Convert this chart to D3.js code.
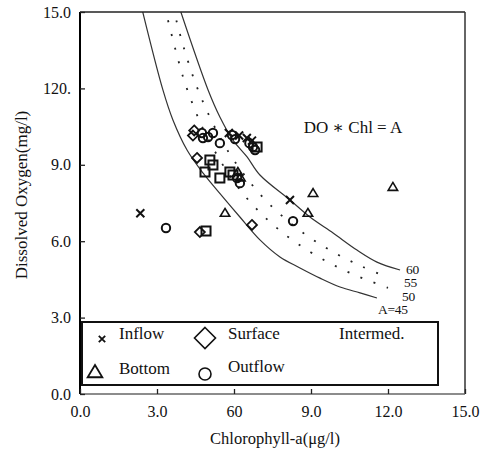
<!DOCTYPE html>
<html><head><meta charset="utf-8">
<script src="https://cdn.jsdelivr.net/npm/d3@7"></script>
<style>body{margin:0;background:#fff}svg{display:block}
svg text{font-family:"Liberation Serif","Times New Roman",Tinos,Times,"Nimbus Roman","DejaVu Serif",serif !important;fill:#111}</style>
</head><body><svg id="c" width="483" height="454"></svg>
<script>
// ---- data (Chlorophyll-a, Dissolved Oxygen) ----
const xTickValues = [0, 3, 6, 9, 12, 15];
const xTickLabels = ["0.0", "3.0", "60", "9.0", "12.0", "15.0"];
const yTickValues = [0, 3, 6, 9, 12, 15];
const yTickLabels = ["0.0", "3.0", "6.0", "9.0", "120.", "15.0"];

const inflow = [[2.35,7.10],[5.8,10.25],[6.2,10.15],[6.5,10.05],[6.7,9.95],[8.18,7.62]];
const surface = [[4.45,10.35],[4.40,10.15],[4.56,9.27],[4.67,6.36],[6.70,6.64]];
const bottom = [[5.65,7.11],[9.08,7.89],[12.19,8.13],[8.88,7.11],[6.15,8.72],[6.25,8.50]];
const outflow = [[3.35,6.52],[8.30,6.79],[4.75,10.25],[4.99,10.09],[5.18,10.25],[5.45,9.85],[4.79,10.05],
                 [5.92,10.17],[6.04,10.01],[6.74,9.70],[6.82,9.58],[6.12,8.48],[6.23,8.28],[6.60,9.85]];
const intermed = [[4.91,6.40],[5.06,9.19],[5.18,8.99],[4.87,8.72],[5.45,8.48],[5.84,8.72],[5.96,8.60],[6.90,9.70]];

const curve60 = [[3.93,15.0],[4.99,11.94],[5.45,10.88],[5.96,9.97],[6.51,9.31],[7.01,8.60],[8.18,7.62],[8.96,6.95],[9.86,6.32],[10.79,5.65],[11.57,5.18],[12.47,4.87]];
const curve55 = [[3.62,15.2],[4.0,13.75],[4.5,12.2],[5.0,11.0],[5.5,10.0],[6.0,9.17],[7.0,7.86],[8.0,6.88],[9.0,6.11],[10.0,5.5],[11.0,5.0],[12.0,4.58]];
const curve50 = [[3.30,15.2],[4.0,12.5],[4.5,11.1],[5.0,10.0],[6.0,8.33],[7.0,7.14],[8.0,6.25],[9.0,5.56],[10.0,5.0],[11.0,4.55],[12.0,4.17]];
const curve45 = [[2.42,15.1],[3.23,11.94],[3.62,10.76],[4.17,9.58],[4.79,8.68],[5.57,7.73],[6.23,6.95],[7.01,6.05],[7.79,5.38],[8.57,4.95],[9.35,4.55],[10.13,4.20],[10.91,3.97],[11.57,3.77]];
const curveLabels = ["60", "55", "50", "A=45"];

// ---- layout ----
const svg = d3.select("#c");
const x = d3.scaleLinear().domain([0, 15]).range([80, 465]);
const y = d3.scaleLinear().domain([0, 15]).range([394, 12]);

svg.append("defs").append("clipPath").attr("id","clip")
  .append("rect").attr("x",80).attr("y",12).attr("width",385).attr("height",382);

// curves
const line = d3.line().x(d => x(d[0])).y(d => y(d[1])).curve(d3.curveCatmullRom);
const cg = svg.append("g").attr("clip-path","url(#clip)");
[[curve60,false],[curve55,true],[curve50,true],[curve45,false]].forEach(([c,dot]) => {
  cg.append("path").attr("d", line(c)).attr("fill","none")
    .attr("stroke", dot ? "#222" : "#333").attr("stroke-width", dot ? 1.8 : 1.2)
    .attr("stroke-dasharray", dot ? "2,12" : null);
});
// curve labels at curve ends
const ends = [curve60, curve55, curve50, curve45];
const lblOff = [[6,4],[16,10],[14,13],[1,16]];
ends.forEach((c,i) => {
  const e = c[c.length-1];
  svg.append("text").attr("x", x(e[0]) + lblOff[i][0]).attr("y", y(e[1]) + lblOff[i][1])
    .attr("font-size", 13.5).attr("letter-spacing", -0.3).text(curveLabels[i]);
});

// frame
svg.append("line").attr("x1",80).attr("x2",465).attr("y1",12).attr("y2",12).attr("stroke","#222").attr("stroke-width",1.5);
svg.append("line").attr("x1",465).attr("x2",465).attr("y1",12).attr("y2",394).attr("stroke","#333").attr("stroke-width",1.5);
svg.append("line").attr("x1",80).attr("x2",465).attr("y1",394).attr("y2",394).attr("stroke","#666").attr("stroke-width",1.5);
svg.append("line").attr("x1",80).attr("x2",80).attr("y1",12).attr("y2",394).attr("stroke","#000").attr("stroke-width",2);

// axes
const xa = svg.append("g").attr("transform","translate(0,394)")
  .call(d3.axisBottom(x).tickValues(xTickValues).tickFormat((d,i)=>xTickLabels[i]).tickSizeInner(-5).tickSizeOuter(0).tickPadding(12));
const ya = svg.append("g").attr("transform","translate(80,0)")
  .call(d3.axisLeft(y).tickValues(yTickValues).tickFormat((d,i)=>yTickLabels[i]).tickSizeInner(-5).tickSizeOuter(0).tickPadding(9));
[xa, ya].forEach(a => {
  a.attr("font-family", null);
  a.select(".domain").remove();
  a.selectAll("line").attr("stroke","#222").attr("stroke-width",1.3);
  a.selectAll("text").attr("font-size",16).attr("fill","#111");
});

// axis titles
svg.append("text").attr("transform","translate(27,195) rotate(-90)").attr("text-anchor","middle")
  .attr("font-size",17).text("Dissolved Oxygen(mg/l)");
svg.append("text").attr("x",275).attr("y",444).attr("text-anchor","middle")
  .attr("font-size",16.5).text("Chlorophyll-a(\u03BCg/l)");

// formula
svg.append("text").attr("x",353).attr("y",133).attr("text-anchor","middle").attr("font-size",17)
  .text("DO \u2217 Chl = A");

// markers
const mk = {
  cross: s => `M${-s},${-s}L${s},${s}M${-s},${s}L${s},${-s}`,
  diamond: s => `M0,${-s}L${s},0L0,${s}L${-s},0Z`,
  square: s => `M${-s},${-s}H${s}V${s}H${-s}Z`,
  triangle: s => `M0,${-s}L${s*1.05},${s*0.75}L${-s*1.05},${s*0.75}Z`,
  circle: s => `M${s},0A${s},${s} 0 1,1 ${-s},0A${s},${s} 0 1,1 ${s},0Z`
};
function plot(data, type, size, sw) {
  svg.append("g").selectAll("path").data(data).join("path")
    .attr("transform", d => `translate(${x(d[0])},${y(d[1])})`)
    .attr("d", mk[type](size)).attr("fill","none").attr("stroke","#111").attr("stroke-width", sw);
}
plot(intermed, "square", 4.5, 2);
plot(surface, "diamond", 5, 1.8);
plot(bottom, "triangle", 4.5, 1.6);
plot(outflow, "circle", 4.2, 2);
plot(inflow, "cross", 4, 2);

// legend
const lg = svg.append("g");
lg.append("rect").attr("x",82).attr("y",322).attr("width",356).attr("height",63)
  .attr("fill","#fff").attr("stroke","#111").attr("stroke-width",2);
const legItems = [
  {t:"Inflow", sym:"cross", s:3.2, sw:1.8, mx:102, my:339, tx:119, ty:339},
  {t:"Surface", sym:"diamond", s:10.5, sw:1.6, mx:205, my:338, tx:228, ty:339},
  {t:"Intermed.", sym:null, tx:339, ty:339},
  {t:"Bottom", sym:"triangle", s:7, sw:1.8, mx:95, my:372, tx:119, ty:374},
  {t:"Outflow", sym:"circle", s:6, sw:1.6, mx:205, my:374, tx:228, ty:372}
];
legItems.forEach(d => {
  if (d.sym) lg.append("path").attr("transform",`translate(${d.mx},${d.my})`).attr("d", mk[d.sym](d.s))
    .attr("fill","none").attr("stroke","#111").attr("stroke-width", d.sw);
  lg.append("text").attr("x", d.tx).attr("y", d.ty).attr("font-size",17).text(d.t);
});
</script></body></html>
